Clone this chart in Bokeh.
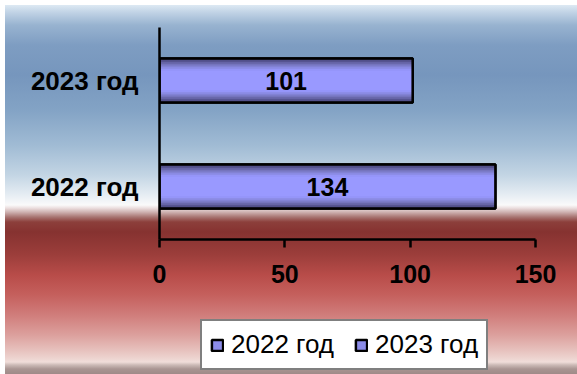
from bokeh.plotting import figure
from bokeh.layouts import column
from bokeh.models import ColumnDataSource, FixedTicker, Legend, LegendItem, Range1d, FactorRange
from bokeh.core.properties import value
from bokeh.embed import file_html
from bokeh.resources import INLINE

# ---- data ----
categories = ["2022 год", "2023 год"]
values = [134, 101]
series_names = ["2022 год", "2023 год"]
x_ticks = [0, 50, 100, 150]
x_max = 150

src = ColumnDataSource(dict(
    cat=categories,
    val=values,
    mid=[v / 2 for v in values],
    lbl=[str(v) for v in values],
))

FONT = "Liberation Sans"

p = figure(width=572, height=300,
           y_range=FactorRange(*categories), x_range=Range1d(0, x_max),
           output_backend="svg", toolbar_location=None,
           min_border_left=154, min_border_right=42,
           min_border_top=22, min_border_bottom=66)
p.background_fill_alpha = 0
p.border_fill_alpha = 0
p.outline_line_color = None
p.xgrid.visible = False
p.ygrid.visible = False

# ---- axes ----
xa = p.xaxis[0]
xa.ticker = FixedTicker(ticks=x_ticks)
xa.major_tick_in = 0
xa.major_tick_out = 8
xa.minor_tick_in = 0
xa.minor_tick_out = 0
xa.axis_line_width = 2.5
xa.major_tick_line_width = 2.5
xa.axis_line_color = "black"
xa.major_tick_line_color = "black"
xa.major_label_text_font = FONT
xa.major_label_text_font_style = "bold"
xa.major_label_text_font_size = "25px"
xa.major_label_text_color = "black"
xa.major_label_standoff = 17

ya = p.yaxis[0]
ya.major_tick_in = 0
ya.major_tick_out = 0
ya.minor_tick_in = 0
ya.minor_tick_out = 0
ya.axis_line_width = 2.5
ya.axis_line_color = "black"
ya.major_label_text_font = FONT
ya.major_label_text_font_style = "bold"
ya.major_label_text_font_size = "26px"
ya.major_label_text_color = "black"
ya.major_label_standoff = 21

# ---- bars (layered to mimic the cylinder-like gradient) ----
BAR_H = 0.415
BASE_STYLE = dict(fill_color="#8c8ce8", line_color="black", line_width=2.5)
p.hbar(y="cat", left=0, right="val", height=BAR_H, source=src, **BASE_STYLE)
layers = [
    (1.00, "#48467a"), (0.92, "#565490"), (0.84, "#6664a6"), (0.76, "#7574bd"),
    (0.68, "#8282d4"), (0.60, "#8d8de8"), (0.52, "#9595f8"), (0.44, "#9999ff"),
]
for frac, col in layers:
    p.hbar(y="cat", left=0, right="val", height=BAR_H * frac, source=src,
           fill_color=col, line_color=None)
p.hbar(y="cat", left=0, right="val", height=BAR_H, source=src,
       fill_color=None, line_color="black", line_width=2.5)

p.text(x="mid", y="cat", text="lbl", source=src,
       text_font=value(FONT), text_font_style="bold", text_font_size="25px",
       text_align="center", text_baseline="middle", text_color="black")

# ---- legend strip (own figure below the chart; frames are aligned by the column) ----
lf = figure(width=572, height=69,
            y_range=FactorRange(*categories), x_range=Range1d(0, x_max),
            output_backend="svg", toolbar_location=None,
            x_axis_location=None, y_axis_location=None,
            min_border=0)
lf.background_fill_alpha = 0
lf.border_fill_alpha = 0
lf.outline_line_color = None
lf.xgrid.visible = False
lf.ygrid.visible = False
leg_r = lf.hbar(y="cat", left=0, right="val", height=BAR_H, source=src, **BASE_STYLE)
leg_r.visible = False

legend = Legend(
    items=[LegendItem(label=series_names[i], renderers=[leg_r], index=i) for i in range(len(series_names))],
    orientation="horizontal", location=(41, 4),
    border_line_color="black", border_line_width=2,
    background_fill_color="white", background_fill_alpha=1,
    inactive_fill_alpha=0,
    label_text_font=FONT, label_text_font_size="26px", label_text_color="black",
    glyph_width=14, glyph_height=14, label_standoff=7, spacing=20,
    padding=8, margin=0,
)
lf.add_layout(legend)

stops = [
    (0, "#dde9f3"), (7, "#c2d4e6"), (20, "#98b3d0"), (40, "#7e9dc2"),
    (70, "#7696bd"), (105, "#83a3c5"), (140, "#a0bbd4"), (170, "#c3d5e4"),
    (190, "#e6edf3"), (200, "#fafafa"), (203, "#ecdfdf"), (207, "#cfb3b2"),
    (212, "#a87572"), (217, "#8c3f3b"), (227, "#863230"), (250, "#9c3e3b"),
    (270, "#b84c49"), (290, "#c5605d"), (310, "#d07d7b"), (330, "#dca09d"),
    (347, "#e8c5c1"), (357, "#f0ddd9"), (360, "#cbbab6"), (364, "#a99592"),
    (369, "#9f8a88"),
]
grad = "linear-gradient(to bottom, " + ", ".join(f"{c} {y}px" for y, c in stops) + ")"

layout = column(p, lf, spacing=0)
layout.margin = (5, 0, 0, 5)
layout.styles = {"background": grad}

open("out.html", "w").write(file_html(layout, INLINE))
